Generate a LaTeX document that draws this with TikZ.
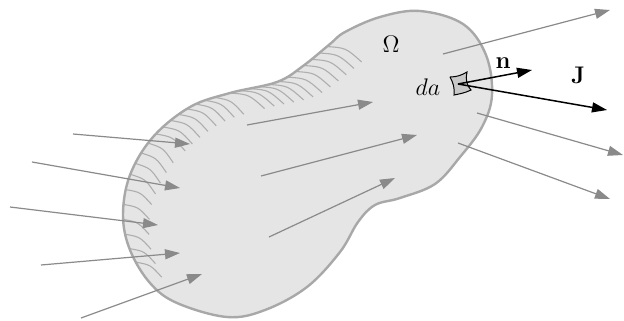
\documentclass[tikz,border=0pt]{standalone}
\usepackage{amsmath,amssymb}
\usetikzlibrary{arrows.meta,decorations.markings}
\definecolor{BlobFill}{HTML}{E5E5E5}
\definecolor{BlobEdge}{HTML}{A8A8A8}
\definecolor{HatchGray}{HTML}{AEAEAE}
\definecolor{FluxGray}{HTML}{8A8A8A}
\definecolor{PatchFill}{HTML}{C8C8C8}
% one shading stroke, direction and length given in the canvas
\newcommand{\hatchstroke}[2]{%
  \pgftransformresetnontranslations
  \draw[hatchline] (0pt,0pt) .. controls (#1+20:#2*0.5pt) .. (#1:#2pt);%
}

\begin{document}
\begin{tikzpicture}[x=0.5pt,y=-0.5pt,
  hatchline/.style={HatchGray,line width=0.55pt},
  flux/.style={FluxGray,line width=0.6pt,-{Triangle[length=7.5pt,width=5pt]}},
  nvec/.style={black,line width=0.75pt,-{Triangle[length=7.5pt,width=5pt]}},
  lbl/.style={font=\large,inner sep=0pt}]
\useasboundingbox (0,0) rectangle (624,320);
% the region, shading strokes along its upper left edge
\path[preaction={fill=BlobFill},
  postaction={decorate,decoration={markings,
    mark=between positions 2pt and 60pt step 5pt with {\hatchstroke{-24}{19}},
    mark=between positions 65pt and 100pt step 5pt with {\hatchstroke{-30}{17}},
    mark=between positions 106pt and 125pt step 6pt with {\hatchstroke{-38}{16}},
    mark=between positions 132pt and 176pt step 7.5pt with {\hatchstroke{-30}{15}}}},
  postaction={draw=BlobEdge,line width=1.2pt}]
  plot[smooth cycle,tension=0.6] coordinates {(345,32) (330,44) (303,66) (277,82)
    (230,93) (190,107) (153,137) (130,175) (123,215) (130,250) (150,283) (177,303)
    (227,317) (265,310) (307,287) (340,252) (358,222) (375,205) (400,198) (435,184)
    (460,157) (482,127) (492,95) (486,55) (463,24) (420,11) (380,17)};
% flux lines: in, through, out
\foreach \sx/\sy/\ex/\ey in {73/134/190/144, 32/162/180/188, 10/207/158/225,
    41/265/180/253, 81/318/202/274, 247/125/373/102, 261/176/417/135,
    269/237/395/178, 443/54/610/10, 477/113/623/155, 458/143/610/199}
  \draw[flux] (\sx,\sy) -- (\ex,\ey);
% surface element
\filldraw[fill=PatchFill,draw=black,line width=0.5pt] (450,77)
  .. controls (457,77) and (462,75) .. (467,72)
  .. controls (465,79) and (467,86) .. (471,90)
  .. controls (465,93) and (459,94) .. (454,95)
  .. controls (455,89) and (453,82) .. (450,77);
\coordinate (dA) at (458,84);
\coordinate (ntip) at (532,70);
\coordinate (jtip) at (607,110);
\draw[nvec] (dA) -- (ntip);
\draw[nvec] (dA) -- (jtip);
\node[lbl] (omega) at (391,44) {$\Omega$};
\node[lbl] (darea) at (428,87) {$da$};
\node[lbl] (nlab) at (503,63) {$\mathbf{n}$};
\node[lbl] (jlab) at (578,75) {$\mathbf{J}$};
\end{tikzpicture}
\end{document}
